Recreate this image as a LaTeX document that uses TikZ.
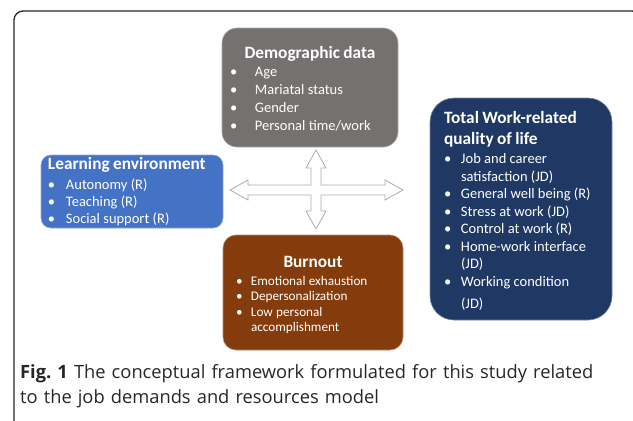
\documentclass[tikz,border=0pt]{standalone}
\usepackage{fontspec}
\setmainfont{Carlito}
\newfontfamily\capfont{Open Sans}
\usetikzlibrary{positioning}

\definecolor{demogray}{HTML}{767171}
\definecolor{learnblue}{HTML}{4472C4}
\definecolor{qolnavy}{HTML}{1F3864}
\definecolor{burnbrown}{HTML}{843C0C}
\definecolor{framegray}{HTML}{262626}

% bullet, box title, and box body (set a little low in its box)
\newcommand{\bl}{\textbullet}
\newcommand{\boxtitle}[1]{{\fontsize{17.3}{21}\selectfont\bfseries #1}}
\newcommand{\boxbody}[1]{\raisebox{-3.5pt}[\height][\depth]{#1}}

\tikzset{
  box/.style={rectangle, fill=#1, draw=#1!60!white, line width=0.6pt,
              text=white, align=left, inner ysep=0pt},
  crossarrow/.style={draw=gray!65, fill=white, line width=0.8pt, line join=miter}
}

\begin{document}
\begin{tikzpicture}[x=1pt, y=-1pt]
     \clip (0,0) rectangle (633,421);
     % outer frame
     \draw [framegray, line width=1.3pt, rounded corners=9pt] (14,440) |- (641,11) -- (641,440);

     % boxes
     \node [box=demogray, rounded corners=15pt, minimum width=176pt, minimum height=119pt,
            text width=160pt, inner xsep=8pt] (demo) at (310,87.5)
       {\fontsize{14.5}{18}\selectfont\boxbody{%
        \begin{tabular}{@{}p{25pt}@{}p{135pt}@{}}
          \multicolumn{2}{@{}c@{}}{\boxtitle{Demographic data}}\\
          \bl & Age\\
          \bl & Mariatal status\\
          \bl & Gender\\
          \bl & Personal time/work
        \end{tabular}}};
     \node [box=learnblue, rounded corners=10pt, minimum width=182pt, minimum height=73pt,
            text width=168pt, inner xsep=7pt] (learn) at (132,191.5)
       {\fontsize{14.5}{17}\selectfont\raisebox{-1.5pt}[\height][\depth]{%
        \begin{tabular}{@{}p{18pt}@{}p{150pt}@{}}
          \multicolumn{2}{@{}l@{}}{\boxtitle{Learning environment}}\\[3pt]
          \bl & Autonomy (R)\\
          \bl & Teaching (R)\\
          \bl & Social support (R)
        \end{tabular}}};
     \node [box=qolnavy, rounded corners=24pt, minimum width=182pt, minimum height=222pt,
            text width=154pt, inner xsep=14pt] (qol) at (521,209)
       {\fontsize{14.5}{17.5}\selectfont\boxbody{%
        \begin{tabular}{@{}p{17pt}@{}p{137pt}@{}}
          \multicolumn{2}{@{}l@{}}{\boxtitle{Total Work-related}}\\[3.5pt]
          \multicolumn{2}{@{}l@{}}{\boxtitle{quality of life}}\\[1.5pt]
          \bl & Job and career\\
              & satisfaction (JD)\\
          \bl & General well being (R)\\
          \bl & Stress at work (JD)\\
          \bl & Control at work (R)\\
          \bl & Home-work interface\\
              & (JD)\\
          \bl & Working condition\\[4.5pt]
              & (JD)
        \end{tabular}}};
     \node [box=burnbrown, rounded corners=13pt, minimum width=180pt, minimum height=115pt,
            text width=154pt, inner xsep=13pt] (burn) at (313,292.5)
       {\fontsize{13.2}{15.5}\selectfont\boxbody{%
        \begin{tabular}{@{}p{15pt}@{}p{139pt}@{}}
          \multicolumn{2}{@{}c@{}}{\boxtitle{Burnout}}\\[2.5pt]
          \bl & Emotional exhaustion\\
          \bl & Depersonalization\\
          \bl & Low personal\\
              & accomplishment
        \end{tabular}}};

     % four-way block arrow
     \coordinate (hub) at (316,190);
     \begin{scope}[shift={(hub)}]
       \draw [crossarrow] (0,-40) -- (10,-22) -- (5,-22) -- (5,-5) -- (69,-5) -- (69,-10)
         -- (87,0) -- (69,10) -- (69,5) -- (5,5) -- (5,21) -- (10,21) -- (0,39)
         -- (-10,21) -- (-5,21) -- (-5,5) -- (-68,5) -- (-68,10) -- (-86,0)
         -- (-68,-10) -- (-68,-5) -- (-5,-5) -- (-5,-22) -- (-10,-22) -- cycle;
     \end{scope}

     % caption
     \node [anchor=north west, text width=610pt, align=left, inner sep=0pt, text=black!85,
            font=\capfont\fontsize{18.3}{25}\selectfont] (caption) at (20,364)
       {\textbf{Fig.\ 1} The conceptual framework formulated for this study related\\
        to the job demands and resources model};
 \end{tikzpicture}
\end{document}
